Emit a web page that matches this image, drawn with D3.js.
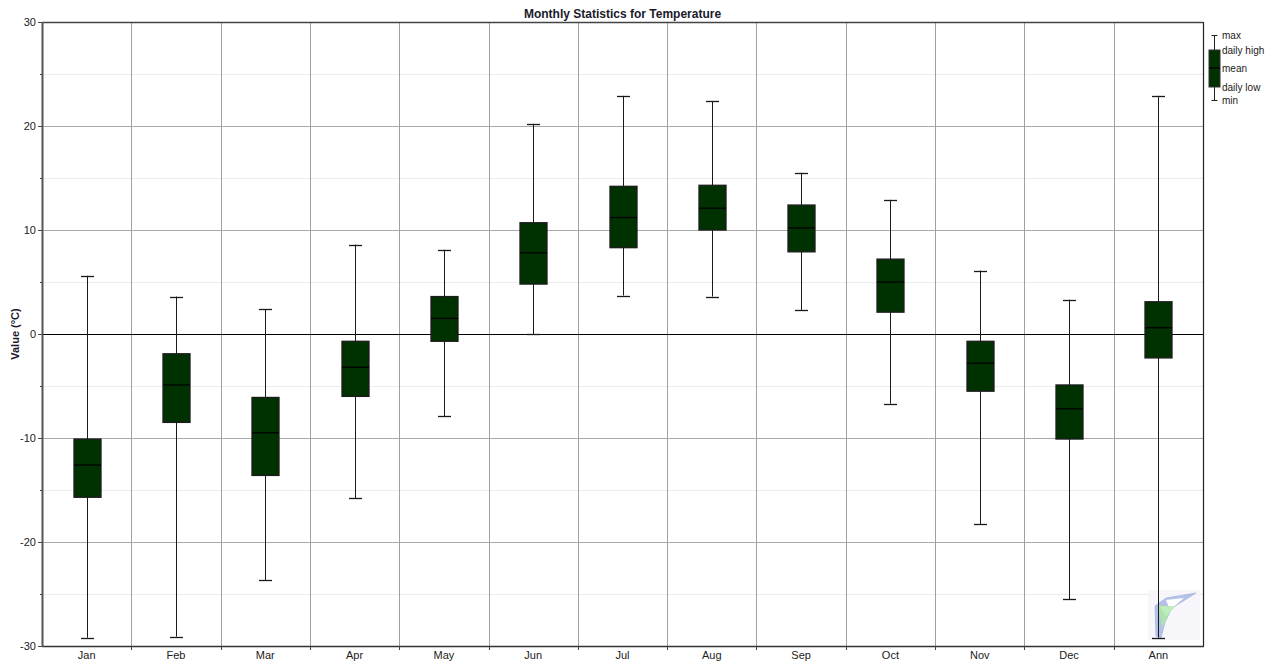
<!DOCTYPE html>
<html>
<head>
<meta charset="utf-8">
<script src="https://cdn.jsdelivr.net/npm/d3@7"></script>
<style>
  html, body { margin: 0; padding: 0; background: #fff; }
  svg { display: block; font-family: Arial, "Liberation Sans", sans-serif; }
</style>
</head>
<body>
<svg id="chart" width="1278" height="662"></svg>
<script>
const categories = ["Jan","Feb","Mar","Apr","May","Jun","Jul","Aug","Sep","Oct","Nov","Dec","Ann"];
const maxValues   = [5.6, 3.6, 2.4, 8.6, 8.1, 20.2, 22.9, 22.4, 15.5, 12.9, 6.1, 3.3, 22.9];
const dailyHigh   = [-10.1, -1.9, -6.1, -0.7, 3.6, 10.7, 14.2, 14.3, 12.4, 7.2, -0.7, -4.9, 3.1];
const meanValues  = [-12.6, -4.9, -9.5, -3.2, 1.5, 7.8, 11.2, 12.1, 10.2, 5.0, -2.8, -7.2, 0.6];
const dailyLow    = [-15.7, -8.5, -13.6, -6.0, -0.7, 4.8, 8.3, 10.0, 7.9, 2.1, -5.5, -10.1, -2.3];
const minValues   = [-29.2, -29.1, -23.7, -15.8, -7.9, 0.0, 3.7, 3.6, 2.3, -6.7, -18.3, -25.5, -29.2];
const yTicks      = [-30, -20, -10, 0, 10, 20, 30];
const yMinorTicks = [-25, -15, -5, 5, 15, 25];
const legendLabels = ["max", "daily high", "mean", "daily low", "min"];

const svg = d3.select("#chart");
const L = 42, R = 1203, T = 22, B = 646;

const x = d3.scaleBand().domain(categories).range([L, R]).padding(0);
const y = d3.scaleLinear().domain([-30, 30]).range([B, T]);
const bw = x.bandwidth();
const boxW = 27, capW = 13;

const data = categories.map((c, i) => ({
  cat: c, max: maxValues[i], hi: dailyHigh[i], mean: meanValues[i], lo: dailyLow[i], min: minValues[i]
}));

// minor horizontal grid
svg.append("g").selectAll("line").data(yMinorTicks).join("line")
  .attr("x1", L).attr("x2", R)
  .attr("y1", d => Math.round(y(d)) + 0.5).attr("y2", d => Math.round(y(d)) + 0.5)
  .attr("stroke", "#ececec").attr("stroke-width", 1);

// major horizontal grid
svg.append("g").selectAll("line").data(yTicks.filter(d => d !== 0 && d !== -30 && d !== 30)).join("line")
  .attr("x1", L).attr("x2", R)
  .attr("y1", d => Math.round(y(d)) + 0.5).attr("y2", d => Math.round(y(d)) + 0.5)
  .attr("stroke", "#a8a8a8").attr("stroke-width", 1);

// vertical grid at category boundaries
svg.append("g").selectAll("line").data(categories.slice(1)).join("line")
  .attr("x1", d => Math.round(x(d)) + 0.5).attr("x2", d => Math.round(x(d)) + 0.5)
  .attr("y1", T).attr("y2", B)
  .attr("stroke", "#a0a0a0").attr("stroke-width", 1);

// zero line
svg.append("line")
  .attr("x1", L).attr("x2", R)
  .attr("y1", Math.round(y(0)) + 0.5).attr("y2", Math.round(y(0)) + 0.5)
  .attr("stroke", "#000").attr("stroke-width", 1);

// watermark logo (light)
const wm = svg.append("g").attr("opacity", 0.85);
wm.append("rect").attr("x", 1148).attr("y", 590).attr("width", 52).attr("height", 50).attr("fill", "#f6f5fa");
wm.append("path").attr("d", "M1155,606 L1166,598 L1196,593 L1172,608 L1165,622 L1161,638 L1156,636 Z")
  .attr("fill", "#a9b7e6").attr("stroke", "#9aa9dc").attr("stroke-width", 0.8);
wm.append("path").attr("d", "M1158,604 L1170,612 L1162,628 Z").attr("fill", "#9fe0a0");
wm.append("path").attr("d", "M1166,600 L1184,598 L1170,610 Z").attr("fill", "#ffffff");
wm.append("path").attr("d", "M1160,606 L1176,606 L1166,616 Z").attr("fill", "#b6e8b0");

// whiskers and boxes
const g = svg.append("g");
const cx = d => Math.round(x(d.cat) + bw / 2) + 0.5;
g.selectAll("line.wh").data(data).join("line").attr("class", "wh")
  .attr("x1", cx).attr("x2", cx)
  .attr("y1", d => y(d.max)).attr("y2", d => y(d.min))
  .attr("stroke", "#1a1a1a").attr("stroke-width", 1);
g.selectAll("line.capt").data(data).join("line").attr("class", "capt")
  .attr("x1", d => cx(d) - capW / 2).attr("x2", d => cx(d) + capW / 2)
  .attr("y1", d => Math.round(y(d.max)) + 0.5).attr("y2", d => Math.round(y(d.max)) + 0.5)
  .attr("stroke", "#1a1a1a").attr("stroke-width", 1.3);
g.selectAll("line.capb").data(data).join("line").attr("class", "capb")
  .attr("x1", d => cx(d) - capW / 2).attr("x2", d => cx(d) + capW / 2)
  .attr("y1", d => Math.round(y(d.min)) + 0.5).attr("y2", d => Math.round(y(d.min)) + 0.5)
  .attr("stroke", "#1a1a1a").attr("stroke-width", 1.3);
g.selectAll("rect.box").data(data).join("rect").attr("class", "box")
  .attr("x", d => cx(d) - boxW / 2).attr("width", boxW)
  .attr("y", d => y(d.hi)).attr("height", d => y(d.lo) - y(d.hi))
  .attr("fill", "#003100").attr("stroke", "#1c1c1c").attr("stroke-width", 1.3);
g.selectAll("line.mean").data(data).join("line").attr("class", "mean")
  .attr("x1", d => cx(d) - boxW / 2).attr("x2", d => cx(d) + boxW / 2)
  .attr("y1", d => y(d.mean)).attr("y2", d => y(d.mean))
  .attr("stroke", "#000").attr("stroke-width", 1.3);

// frame
svg.append("line").attr("x1", L).attr("x2", R).attr("y1", T + 0.5).attr("y2", T + 0.5).attr("stroke", "#444").attr("stroke-width", 1.5);
svg.append("line").attr("x1", R + 0.5).attr("x2", R + 0.5).attr("y1", T).attr("y2", B).attr("stroke", "#222").attr("stroke-width", 1.2);
svg.append("line").attr("x1", L).attr("x2", R + 1).attr("y1", B + 0.5).attr("y2", B + 0.5).attr("stroke", "#333").attr("stroke-width", 1.5);
svg.append("line").attr("x1", L + 0.5).attr("x2", L + 0.5).attr("y1", T).attr("y2", B + 1).attr("stroke", "#555").attr("stroke-width", 2);

// Y axis
const yAxis = d3.axisLeft(y).tickValues(yTicks).tickSize(4).tickPadding(2).tickFormat(d => String(d));
const ya = svg.append("g").attr("transform", `translate(${L},0)`).call(yAxis);
ya.select(".domain").remove();
ya.selectAll("line").attr("stroke", "#444");
ya.selectAll("text").attr("font-size", 11).attr("fill", "#222").attr("font-family", "Arial, 'Liberation Sans', sans-serif");
const yMinor = d3.axisLeft(y).tickValues(yMinorTicks).tickSize(2).tickFormat("");
const ym = svg.append("g").attr("transform", `translate(${L},0)`).call(yMinor);
ym.select(".domain").remove();
ym.selectAll("line").attr("stroke", "#444");

// X axis
const xAxis = d3.axisBottom(x).tickSize(0).tickPadding(5);
const xa = svg.append("g").attr("transform", `translate(0,${B})`).call(xAxis);
xa.select(".domain").remove();
xa.selectAll("text").attr("font-size", 11).attr("fill", "#222").attr("font-family", "Arial, 'Liberation Sans', sans-serif");
svg.append("g").selectAll("line").data(categories.slice(1)).join("line")
  .attr("x1", d => Math.round(x(d)) + 0.5).attr("x2", d => Math.round(x(d)) + 0.5)
  .attr("y1", B).attr("y2", B + 4).attr("stroke", "#444");

// Title
svg.append("text").attr("x", (L + R) / 2).attr("y", 18).attr("text-anchor", "middle")
  .attr("font-size", 12).attr("font-weight", "bold").attr("fill", "#1a1a2a")
  .text("Monthly Statistics for Temperature");

// Y label
svg.append("text").attr("transform", `translate(19,${(T + B) / 2}) rotate(-90)`)
  .attr("text-anchor", "middle").attr("font-size", 11).attr("font-weight", "bold").attr("fill", "#1a1a2a")
  .text("Value (°C)");

// Legend
const lx = 1214.5;
const ly = [35.5, 50, 68, 87, 100.5];
const lg = svg.append("g");
lg.append("line").attr("x1", lx).attr("x2", lx).attr("y1", ly[0]).attr("y2", ly[4]).attr("stroke", "#222");
lg.append("line").attr("x1", lx - 3).attr("x2", lx + 3).attr("y1", ly[0]).attr("y2", ly[0]).attr("stroke", "#222");
lg.append("line").attr("x1", lx - 3).attr("x2", lx + 3).attr("y1", ly[4]).attr("y2", ly[4]).attr("stroke", "#222");
lg.append("rect").attr("x", lx - 5.5).attr("y", ly[1]).attr("width", 11).attr("height", ly[3] - ly[1])
  .attr("fill", "#003100").attr("stroke", "#333").attr("stroke-width", 1);
lg.append("line").attr("x1", lx - 5.5).attr("x2", lx + 5.5).attr("y1", ly[2]).attr("y2", ly[2]).attr("stroke", "#000").attr("stroke-width", 1.3);
lg.selectAll("text").data(legendLabels).join("text")
  .attr("x", 1222).attr("y", (d, i) => ly[i] + 3.5)
  .attr("font-size", 10).attr("fill", "#222")
  .text(d => d);
</script>
</body>
</html>
